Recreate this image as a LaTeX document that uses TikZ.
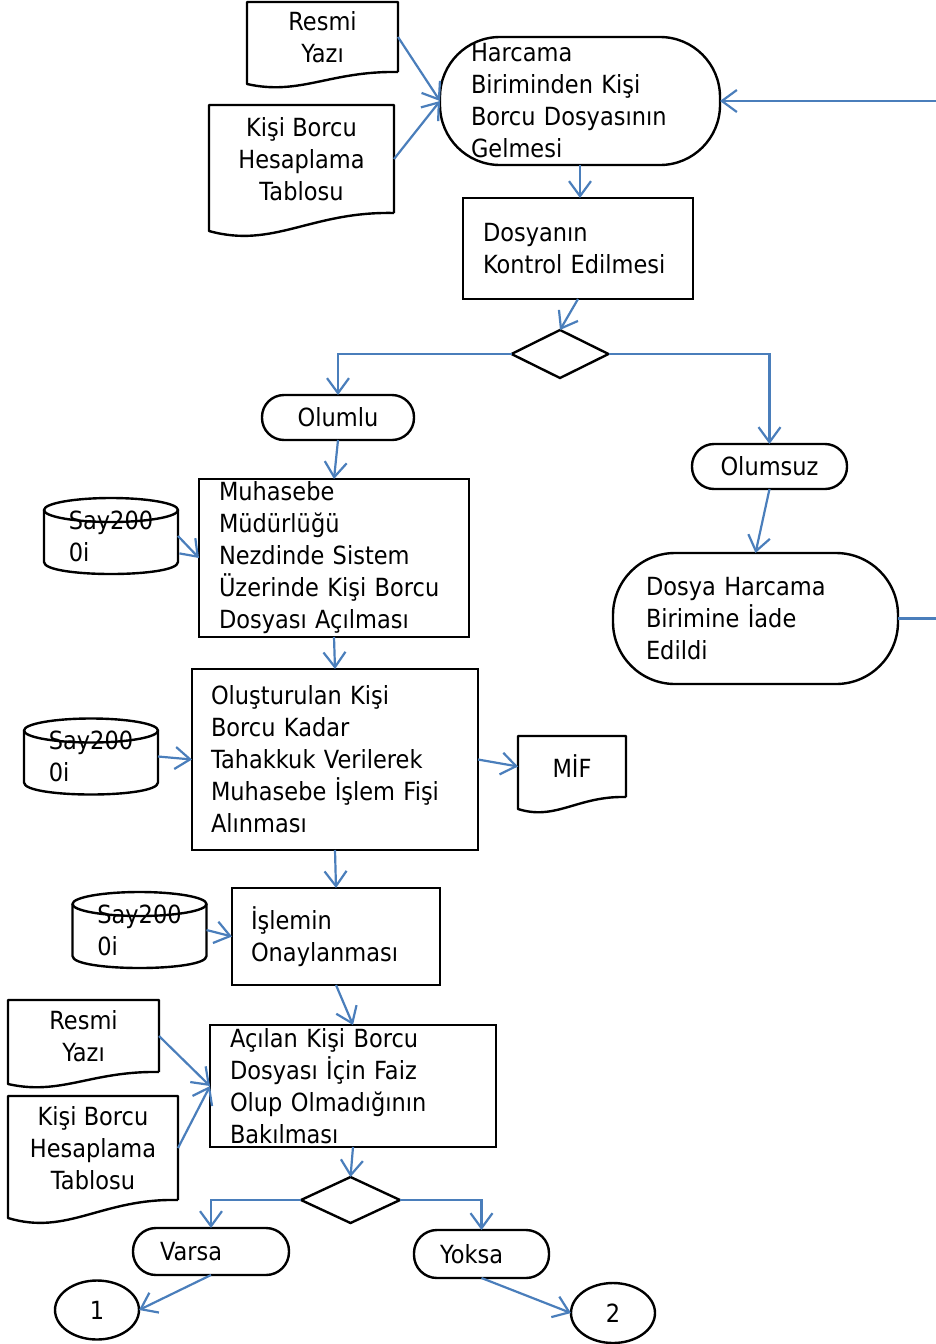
\documentclass[tikz,border=0pt]{standalone}
\usepackage{fontspec}
\setmainfont{DejaVu Sans}[FakeStretch=0.9]
\usepackage{tikz}
\usetikzlibrary{shapes.geometric, calc, arrows.meta}

\definecolor{okmavi}{RGB}{74,126,187}

% belge (dalgali alt kenar) ve veri tabani cizimleri
\newcommand{\belge}[2]{%
	\draw[cizgi] (#1.south east) -- (#1.north east) -- (#1.north west) -- ($(#1.south west)+(0,#2)$)
		.. controls ($(#1.south west)!0.35!(#1.south east)+(0,2*#2)$) and ($(#1.south west)!0.55!(#1.south east)+(0,-0.1*#2)$) .. (#1.south east);}
\newcommand{\disk}[1]{%
	\draw[cizgi] ($(#1.north west)+(0,12)$) -- ($(#1.south west)+(0,-12)$)
		.. controls ($(#1.south west)+(0,4)$) and ($(#1.south east)+(0,4)$) .. ($(#1.south east)+(0,-12)$)
		-- ($(#1.north east)+(0,12)$);
	\draw[cizgi] ($(#1.north)+(0,12)$) ellipse [x radius=67pt, y radius=12pt];}

\begin{document}
\begin{tikzpicture}[x=1pt, y=-1pt,
	every node/.style={font=\fontsize{25}{32}\selectfont, inner sep=0pt, outer sep=0pt},
	kutu/.style={draw, line width=2.4pt, align=left},
	belgekutu/.style={align=center},
	karar/.style={draw, diamond, line width=2.4pt},
	baglac/.style={draw, ellipse, line width=2.4pt},
	cizgi/.style={line width=2.4pt, line join=round},
	ok/.style={draw=okmavi, line width=2.2pt, -{Straight Barb[length=15pt, width=22pt]}},
	]
		\useasboundingbox (0,0) rectangle (935,1344);
		\coordinate (kenar) at (945,0);

		\node[belgekutu, minimum width=151, minimum height=70] (resmiA) at (322.5,37) {Resmi\\Yazı};
		\belge{resmiA}{12}
		\node[belgekutu, minimum width=185, minimum height=108] (kisiA) at (301.5,159) {Kişi Borcu\\Hesaplama\\Tablosu};
		\belge{kisiA}{18}

		\node[kutu, rounded corners=60pt, minimum width=280, minimum height=128, text width=218] (harcama) at (580,101) {Harcama\\Biriminden Kişi\\Borcu Dosyasının\\Gelmesi};
		\draw[ok] (resmiA.east) -- (harcama.west);
		\draw[ok] (kisiA.east) -- (harcama.west);

		\node[kutu, minimum width=230, minimum height=101, text width=190] (kontrol) at (578,248.5) {Dosyanın\\Kontrol Edilmesi};
		\draw[ok] (harcama.south) -- (harcama.south |- kontrol.north);

		\node[karar, minimum width=97, minimum height=48] (karar1) at (560,354) {};
		\draw[ok] (kontrol.south) -- (karar1.north);

		\node[kutu, rounded corners=22pt, minimum width=152, minimum height=45, align=center] (olumlu) at (338,417.5) {Olumlu};
		\node[kutu, rounded corners=22pt, minimum width=155, minimum height=45, align=center] (olumsuz) at (769.5,466.5) {Olumsuz};
		\draw[ok] (karar1.west) -| (olumlu.north);
		\draw[ok] (karar1.east) -| (olumsuz.north);

		\node[kutu, rounded corners=62pt, minimum width=285, minimum height=131, text width=219] (iade) at (755.5,618.5) {Dosya Harcama\\Birimine İade\\Edildi};
		\draw[ok] (olumsuz.south) -- (iade.north);
		\draw[ok] (iade.east) -- (iade.east -| kenar) |- (harcama.east);

		\node[kutu, minimum width=270, minimum height=158, text width=230] (muhasebe) at (334,558) {Muhasebe\\Müdürlüğü\\Nezdinde Sistem\\Üzerinde Kişi Borcu\\Dosyası Açılması};
		\draw[ok] (olumlu.south) -- (muhasebe.north);
		\node[align=left, minimum width=134, minimum height=76] (db1) at (111,536) {Say200\\0i};
		\disk{db1}
		\draw[ok] (db1.east) -- (muhasebe.west);

		\node[kutu, minimum width=286, minimum height=181, text width=248] (olustur) at (335,759.5) {Oluşturulan Kişi\\Borcu Kadar\\Tahakkuk Verilerek\\Muhasebe İşlem Fişi\\Alınması};
		\draw[ok] (muhasebe.south) -- (olustur.north);
		\node[align=left, minimum width=134, minimum height=76] (db2) at (91,756.5) {Say200\\0i};
		\disk{db2}
		\draw[ok] (db2.east) -- (olustur.west);
		\node[belgekutu, minimum width=108, minimum height=61] (mif) at (572,766.5) {MİF};
		\belge{mif}{12}
		\draw[ok] (olustur.east) -- (mif.west);

		\node[kutu, minimum width=208, minimum height=97, text width=170] (onay) at (336,936.5) {İşlemin\\Onaylanması};
		\draw[ok] (olustur.south) -- (onay.north);
		\node[align=left, minimum width=134, minimum height=76] (db3) at (139.5,930) {Say200\\0i};
		\disk{db3}
		\draw[ok] (db3.east) -- (onay.west);

		\node[kutu, minimum width=286, minimum height=122, text width=246] (acilan) at (353,1086) {Açılan Kişi Borcu\\Dosyası İçin Faiz\\Olup Olmadığının\\Bakılması};
		\draw[ok] (onay.south) -- (acilan.north);
		\node[belgekutu, minimum width=151, minimum height=72] (resmiB) at (83.5,1036) {Resmi\\Yazı};
		\belge{resmiB}{12}
		\node[belgekutu, minimum width=170, minimum height=104] (kisiB) at (93,1148) {Kişi Borcu\\Hesaplama\\Tablosu};
		\belge{kisiB}{18}
		\draw[ok] (resmiB.east) -- (acilan.west);
		\draw[ok] (kisiB.east) -- (acilan.west);

		\node[karar, minimum width=99, minimum height=46] (karar2) at (350.5,1200) {};
		\draw[ok] (acilan.south) -- (karar2.north);

		\node[kutu, rounded corners=23pt, minimum width=156, minimum height=47, text width=102] (varsa) at (211,1251.5) {Varsa};
		\node[kutu, rounded corners=23pt, minimum width=135, minimum height=48, text width=83] (yoksa) at (481.5,1254) {Yoksa};
		\draw[ok] (karar2.west) -| (varsa.north);
		\draw[ok] (karar2.east) -| (yoksa.north);

		\node[baglac, minimum width=84, minimum height=59] (bir) at (97,1310) {1};
		\node[baglac, minimum width=84, minimum height=60] (iki) at (613,1313) {2};
		\draw[ok] (varsa.south) -- (bir.east);
		\draw[ok] (yoksa.south) -- (iki.west);

\end{tikzpicture}
\end{document}
